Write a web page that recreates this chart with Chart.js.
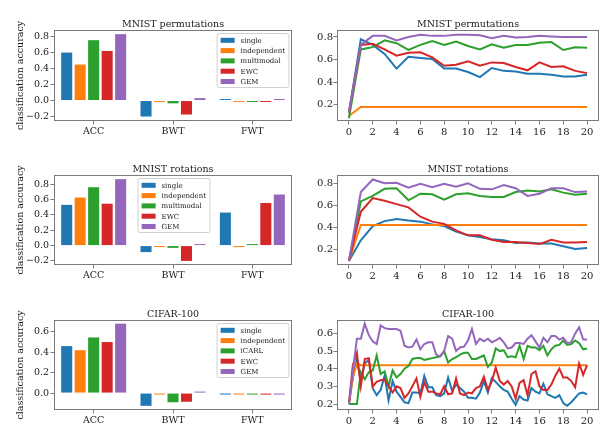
<!DOCTYPE html>
<html>
<head>
<meta charset="utf-8">
<script src="https://cdn.jsdelivr.net/npm/chart.js@4/dist/chart.umd.min.js"></script>
<style>
  html, body { margin: 0; padding: 0; background: #fff; }
  #fig { position: relative; width: 613px; height: 435px; overflow: hidden; }
  canvas { position: absolute; }
</style>
</head>
<body>
<div id="fig">
  <canvas id="bar-perm" width="305" height="145" style="left:0;top:0"></canvas>
  <canvas id="line-perm" width="308" height="145" style="left:305px;top:0"></canvas>
  <canvas id="bar-rot" width="305" height="145" style="left:0;top:145px"></canvas>
  <canvas id="line-rot" width="308" height="145" style="left:305px;top:145px"></canvas>
  <canvas id="bar-cifar" width="305" height="145" style="left:0;top:290px"></canvas>
  <canvas id="line-cifar" width="308" height="145" style="left:305px;top:290px"></canvas>
</div>
<script>
// --- data ---
const mnistMethods = ['single', 'independent', 'multimodal', 'EWC', 'GEM'];
const cifarMethods = ['single', 'independent', 'iCARL', 'EWC', 'GEM'];
const metrics = ['ACC', 'BWT', 'FWT'];

// bar values per method: ACC, BWT, FWT
const permBarSingle = [0.60, -0.20, 0.005];
const permBarIndep  = [0.45, -0.005, -0.005];
const permBarMulti  = [0.755, -0.035, -0.005];
const permBarEwc    = [0.62, -0.175, -0.005];
const permBarGem    = [0.83, 0.03, 0.005];

const rotBarSingle = [0.53, -0.085, 0.43];
const rotBarIndep  = [0.625, -0.01, -0.01];
const rotBarMulti  = [0.76, -0.03, 0.015];
const rotBarEwc    = [0.545, -0.20, 0.555];
const rotBarGem    = [0.865, 0.01, 0.665];

const cifarBarSingle = [0.46, -0.125, -0.01];
const cifarBarIndep  = [0.42, -0.01, -0.01];
const cifarBarIcarl  = [0.545, -0.09, -0.01];
const cifarBarEwc    = [0.50, -0.085, -0.015];
const cifarBarGem    = [0.68, 0.005, -0.015];

// accuracy on the first task as more tasks are learned
const mnistTasks = [0, 1, 2, 3, 4, 5, 6, 7, 8, 9, 10, 11, 12, 13, 14, 15, 16, 17, 18, 19, 20];

const permSingle = [0.13, 0.78, 0.73, 0.65, 0.52, 0.625, 0.615, 0.605, 0.52, 0.52, 0.49, 0.445, 0.525, 0.50, 0.495, 0.475, 0.475, 0.465, 0.45, 0.45, 0.465];
const permIndep  = [0.10, 0.18, 0.18, 0.18, 0.18, 0.18, 0.18, 0.18, 0.18, 0.18, 0.18, 0.18, 0.18, 0.18, 0.18, 0.18, 0.18, 0.18, 0.18, 0.18, 0.18];
const permMulti  = [0.08, 0.69, 0.71, 0.77, 0.745, 0.685, 0.73, 0.765, 0.73, 0.76, 0.72, 0.69, 0.735, 0.705, 0.73, 0.73, 0.75, 0.755, 0.685, 0.71, 0.705];
const permEwc    = [0.13, 0.73, 0.74, 0.69, 0.635, 0.66, 0.665, 0.62, 0.545, 0.555, 0.585, 0.545, 0.575, 0.57, 0.535, 0.505, 0.575, 0.535, 0.54, 0.50, 0.48];
const permGem    = [0.13, 0.73, 0.81, 0.81, 0.77, 0.80, 0.82, 0.81, 0.81, 0.82, 0.82, 0.815, 0.79, 0.81, 0.795, 0.80, 0.81, 0.805, 0.80, 0.80, 0.80];

const rotSingle = [0.09, 0.28, 0.41, 0.455, 0.475, 0.46, 0.45, 0.425, 0.41, 0.36, 0.325, 0.31, 0.29, 0.28, 0.255, 0.26, 0.25, 0.25, 0.225, 0.20, 0.21];
const rotIndep  = [0.09, 0.42, 0.42, 0.42, 0.42, 0.42, 0.42, 0.42, 0.42, 0.42, 0.42, 0.42, 0.42, 0.42, 0.42, 0.42, 0.42, 0.42, 0.42, 0.42, 0.42];
const rotMulti  = [0.09, 0.635, 0.685, 0.75, 0.755, 0.645, 0.705, 0.70, 0.65, 0.70, 0.71, 0.685, 0.675, 0.675, 0.72, 0.735, 0.725, 0.745, 0.715, 0.695, 0.705];
const rotEwc    = [0.09, 0.54, 0.665, 0.64, 0.61, 0.58, 0.495, 0.45, 0.43, 0.37, 0.325, 0.325, 0.285, 0.265, 0.265, 0.255, 0.245, 0.285, 0.26, 0.26, 0.265];
const rotGem    = [0.09, 0.72, 0.835, 0.80, 0.805, 0.76, 0.795, 0.765, 0.795, 0.77, 0.80, 0.75, 0.745, 0.785, 0.755, 0.685, 0.705, 0.755, 0.755, 0.72, 0.725];

const cifarSteps = [0, 0.33, 0.67, 1, 1.33, 1.67, 2, 2.33, 2.67, 3, 3.33, 3.67, 4, 4.33, 4.67, 5, 5.33, 5.67, 6, 6.33, 6.67,
  7, 7.33, 7.67, 8, 8.33, 8.67, 9, 9.33, 9.67, 10, 10.33, 10.67, 11, 11.33, 11.67, 12, 12.33, 12.67, 13, 13.33, 13.67,
  14, 14.33, 14.67, 15, 15.33, 15.67, 16, 16.33, 16.67, 17, 17.33, 17.67, 18, 18.33, 18.67, 19, 19.33, 19.67, 20];

const cifarSingle = [0.2, 0.35, 0.45, 0.33, 0.43, 0.45, 0.29, 0.25, 0.28, 0.36, 0.22, 0.33, 0.27, 0.24, 0.21, 0.205, 0.265, 0.265, 0.26, 0.36, 0.295,
  0.295, 0.25, 0.245, 0.26, 0.35, 0.275, 0.31, 0.29, 0.27, 0.235, 0.235, 0.23, 0.265, 0.33, 0.265, 0.345, 0.325, 0.30, 0.28, 0.27,
  0.23, 0.195, 0.245, 0.225, 0.22, 0.29, 0.27, 0.26, 0.315, 0.255, 0.245, 0.235, 0.25, 0.205, 0.19, 0.21, 0.235, 0.26, 0.265, 0.255];
const cifarIndep = [0.2, 0.35, 0.43, 0.42, 0.42, 0.42, 0.42, 0.42, 0.42, 0.42, 0.42, 0.42, 0.42, 0.42, 0.42, 0.42, 0.42, 0.42, 0.42, 0.42, 0.42,
  0.42, 0.42, 0.42, 0.42, 0.42, 0.42, 0.42, 0.42, 0.42, 0.42, 0.42, 0.42, 0.42, 0.42, 0.42, 0.42, 0.42, 0.42, 0.42, 0.42,
  0.42, 0.42, 0.42, 0.42, 0.42, 0.42, 0.42, 0.42, 0.42, 0.42, 0.42, 0.42, 0.42, 0.42, 0.42, 0.42, 0.42, 0.42, 0.42, 0.42];
const cifarIcarl = [0.2, 0.2, 0.2, 0.38, 0.34, 0.38, 0.39, 0.475, 0.37, 0.385, 0.30, 0.39, 0.35, 0.37, 0.40, 0.415, 0.455, 0.46, 0.46, 0.45, 0.455,
  0.46, 0.465, 0.47, 0.50, 0.435, 0.455, 0.465, 0.48, 0.49, 0.49, 0.455, 0.455, 0.465, 0.475, 0.41, 0.435, 0.515, 0.50, 0.505, 0.465,
  0.47, 0.465, 0.53, 0.455, 0.53, 0.52, 0.52, 0.505, 0.53, 0.475, 0.51, 0.53, 0.535, 0.56, 0.535, 0.54, 0.56, 0.545, 0.51, 0.515];
const cifarEwc = [0.2, 0.42, 0.49, 0.30, 0.455, 0.46, 0.30, 0.325, 0.335, 0.34, 0.30, 0.265, 0.30, 0.29, 0.235, 0.26, 0.30, 0.345, 0.24, 0.325, 0.27,
  0.27, 0.26, 0.255, 0.30, 0.255, 0.26, 0.345, 0.26, 0.25, 0.265, 0.26, 0.29, 0.30, 0.355, 0.28, 0.33, 0.405, 0.33, 0.31, 0.33,
  0.30, 0.23, 0.32, 0.335, 0.25, 0.37, 0.385, 0.30, 0.28, 0.28, 0.31, 0.36, 0.40, 0.35, 0.35, 0.33, 0.295, 0.43, 0.365, 0.42];
const cifarGem = [0.20, 0.385, 0.57, 0.57, 0.655, 0.59, 0.555, 0.54, 0.645, 0.63, 0.625, 0.625, 0.625, 0.615, 0.53, 0.52, 0.525, 0.565, 0.51, 0.54, 0.55,
  0.55, 0.48, 0.47, 0.50, 0.585, 0.57, 0.50, 0.52, 0.525, 0.56, 0.625, 0.54, 0.57, 0.555, 0.57, 0.55, 0.56, 0.575, 0.55, 0.515,
  0.52, 0.545, 0.545, 0.54, 0.57, 0.59, 0.555, 0.52, 0.575, 0.55, 0.585, 0.585, 0.565, 0.575, 0.545, 0.55, 0.60, 0.635, 0.565, 0.565];

const barTicksMnist = [-0.2, 0, 0.2, 0.4, 0.6, 0.8];
const barTicksCifar = [0, 0.2, 0.4, 0.6];
const lineTicksMnist = [0.2, 0.4, 0.6, 0.8];
const lineTicksCifar = [0.2, 0.3, 0.4, 0.5, 0.6];
const stepTicks = [0, 2, 4, 6, 8, 10, 12, 14, 16, 18, 20];

// --- styling ---
const COLORS = ['#1f77b4', '#ff7f0e', '#2ca02c', '#d62728', '#9467bd'];
const SERIF = '"DejaVu Serif", serif';
const FRAME = '#7a7a7a';
const TEXT = '#1a1a1a';

// frame, title and in-axes legend, drawn like matplotlib does
const axesDeco = {
  id: 'axesDeco',
  afterDraw(chart, args, opts) {
    const { ctx, chartArea: a } = chart;
    ctx.save();
    ctx.strokeStyle = FRAME;
    ctx.lineWidth = 1;
    ctx.strokeRect(Math.round(a.left) + 0.5, Math.round(a.top) + 0.5,
      Math.round(a.right - a.left) - 1, Math.round(a.bottom - a.top) - 1);

    ctx.fillStyle = TEXT;
    ctx.font = '9.5px ' + SERIF;
    ctx.textAlign = 'center';
    ctx.textBaseline = 'alphabetic';
    ctx.fillText(opts.title, (a.left + a.right) / 2, a.top - 3.5);

    if (opts.legend) {
      const names = opts.legend;
      ctx.font = '7px ' + SERIF;
      const textW = Math.max(...names.map(n => ctx.measureText(n).width));
      const w = 23.5 + textW + 4;
      const h = 54;
      const x = opts.legendPos === 'center' ? (a.left + a.right) / 2 - w / 2 + 1 : a.right - 3 - w;
      const y = a.top + 3.5;
      ctx.beginPath();
      ctx.roundRect(x, y, w, h, 2);
      ctx.fillStyle = 'rgba(255,255,255,0.8)';
      ctx.fill();
      ctx.strokeStyle = '#d0d0d0';
      ctx.stroke();
      ctx.textAlign = 'left';
      ctx.textBaseline = 'middle';
      names.forEach((n, i) => {
        const cy = y + 6.8 + i * 10.3;
        ctx.fillStyle = COLORS[i];
        ctx.fillRect(x + 3.6, cy - 2.5, 14, 5);
        ctx.fillStyle = TEXT;
        ctx.fillText(n, x + 23.5, cy + 0.5);
      });
    }
    ctx.restore();
  }
};

function fmt(v) {
  return (v < -1e-9 ? '\u2212' : '') + Math.abs(v).toFixed(1);
}

function axisBase(fontSize, tickList, fitFn) {
  return {
    border: { display: false },
    grid: { display: true, drawOnChartArea: false, drawTicks: true, tickLength: 3.5, color: FRAME, lineWidth: 1 },
    ticks: { color: TEXT, font: { family: SERIF, size: fontSize }, padding: 1.5, autoSkip: false, maxRotation: 0 },
    afterBuildTicks: tickList ? (s => { s.ticks = tickList.map(v => ({ value: v })); }) : undefined,
    afterFit: fitFn
  };
}

function barChart(id, names, rows, yMin, yMax, yTicks, title, legendPos, xHeight) {
  const x = axisBase(9.5, null, s => { s.height = xHeight; });
  x.grid.offset = false;
  const y = axisBase(9.5, yTicks, s => { s.width = 54; });
  y.min = yMin;
  y.max = yMax;
  y.ticks.callback = v => fmt(v);
  y.title = { display: true, text: 'classification accuracy', color: TEXT,
    font: { family: SERIF, size: 9.5 }, padding: { top: 14.5, bottom: 0 } };

  return new Chart(document.getElementById(id), {
    type: 'bar',
    data: {
      labels: metrics,
      datasets: rows.map((r, i) => ({
        label: names[i],
        data: r,
        backgroundColor: COLORS[i],
        borderWidth: 0,
        minBarLength: 1.5,
        barPercentage: 0.82,
        categoryPercentage: 0.85
      }))
    },
    options: {
      responsive: false,
      animation: false,
      layout: { padding: { top: 30, right: 13, left: 0, bottom: 0 } },
      plugins: {
        legend: { display: false },
        tooltip: { enabled: false },
        axesDeco: { title: title, legend: names, legendPos: legendPos }
      },
      scales: { x: x, y: y }
    },
    plugins: [axesDeco]
  });
}

function lineChart(id, xs, rows, yMin, yMax, yTicks, title, xHeight) {
  const x = axisBase(10, stepTicks, s => { s.height = xHeight; });
  x.type = 'linear';
  x.min = -1;
  x.max = 21;
  x.ticks.callback = v => String(v);
  const y = axisBase(10, yTicks, s => { s.width = 32; });
  y.min = yMin;
  y.max = yMax;
  y.ticks.callback = v => fmt(v);
  y.ticks.padding = 0.5;

  return new Chart(document.getElementById(id), {
    type: 'line',
    data: {
      datasets: rows.map((r, i) => ({
        data: r.map((v, k) => ({ x: xs[k], y: v })),
        borderColor: COLORS[i],
        borderWidth: 2,
        pointRadius: 0,
        tension: 0,
        fill: false,
        order: rows.length - i
      }))
    },
    options: {
      responsive: false,
      animation: false,
      layout: { padding: { top: 30, right: 14, left: 0, bottom: 0 } },
      plugins: {
        legend: { display: false },
        tooltip: { enabled: false },
        axesDeco: { title: title }
      },
      scales: { x: x, y: y }
    },
    plugins: [axesDeco]
  });
}

barChart('bar-perm', mnistMethods,
  [permBarSingle, permBarIndep, permBarMulti, permBarEwc, permBarGem],
  -0.256, 0.882, barTicksMnist, 'MNIST permutations', 'right', 24);
lineChart('line-perm', mnistTasks,
  [permSingle, permIndep, permMulti, permEwc, permGem],
  0.056, 0.862, lineTicksMnist, 'MNIST permutations', 24);

barChart('bar-rot', mnistMethods,
  [rotBarSingle, rotBarIndep, rotBarMulti, rotBarEwc, rotBarGem],
  -0.253, 0.919, barTicksMnist, 'MNIST rotations', 'center', 25);
lineChart('line-rot', mnistTasks,
  [rotSingle, rotIndep, rotMulti, rotEwc, rotGem],
  0.054, 0.876, lineTicksMnist, 'MNIST rotations', 25);

barChart('bar-cifar', cifarMethods,
  [cifarBarSingle, cifarBarIndep, cifarBarIcarl, cifarBarEwc, cifarBarGem],
  -0.166, 0.716, barTicksCifar, 'CIFAR-100', 'right', 25);
lineChart('line-cifar', cifarSteps,
  [cifarSingle, cifarIndep, cifarIcarl, cifarEwc, cifarGem],
  0.166, 0.676, lineTicksCifar, 'CIFAR-100', 25);
</script>
</body>
</html>
